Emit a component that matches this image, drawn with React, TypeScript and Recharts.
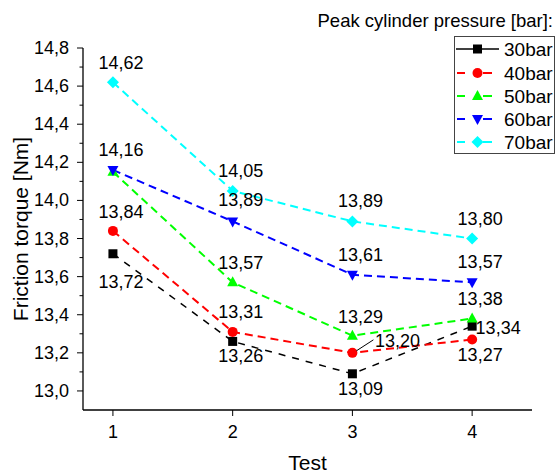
import React from 'react';
import { LineChart, Line, XAxis, YAxis, LabelList, Label } from 'recharts';

const tests = [1, 2, 3, 4];
const p30 = [13.72, 13.26, 13.09, 13.34];
const p40 = [13.84, 13.31, 13.2, 13.27];
const p50 = [14.15, 13.57, 13.29, 13.38];
const p60 = [14.16, 13.89, 13.61, 13.57];
const p70 = [14.62, 14.05, 13.89, 13.8];
const seriesNames = ['30bar', '40bar', '50bar', '60bar', '70bar'];
const xTicks = [1, 2, 3, 4];
const yTicks = [13.0, 13.1, 13.2, 13.3, 13.4, 13.5, 13.6, 13.7, 13.8, 13.9, 14.0, 14.1, 14.2, 14.3, 14.4, 14.5, 14.6, 14.7, 14.8];
const yMajorTicks = [13.0, 13.2, 13.4, 13.6, 13.8, 14.0, 14.2, 14.4, 14.6, 14.8];
const legendTitle = 'Peak cylinder pressure [bar]:';
const xTitle = 'Test';
const yTitle = 'Friction torque [Nm]';

const FONT = "Arial, 'Liberation Sans', sans-serif";

const data = tests.map((t, i) => ({
  test: t,
  s30: p30[i],
  s40: p40[i],
  s50: p50[i],
  s60: p60[i],
  s70: p70[i],
}));

type Shape = 'square' | 'circle' | 'triangle' | 'triangleDown' | 'diamond';

const seriesStyle = [
  { key: 's30', color: '#000000', shape: 'square' as Shape, dash: '7 7', width: 1.5, legendSolid: true },
  { key: 's40', color: '#ff0000', shape: 'circle' as Shape, dash: '8 5', width: 2, legendSolid: false },
  { key: 's50', color: '#00ff00', shape: 'triangle' as Shape, dash: '8 5', width: 2, legendSolid: false },
  { key: 's60', color: '#0000ff', shape: 'triangleDown' as Shape, dash: '8 5', width: 2, legendSolid: false },
  { key: 's70', color: '#00ffff', shape: 'diamond' as Shape, dash: '8 5', width: 2, legendSolid: false },
];

// label placement offsets relative to the point (dx, dy), null = hidden
const labelPlacement: ([number, number, boolean?] | null)[][] = [
  [[8, 28], [8, 15], [8, 15], [26, 2]],
  [[8, -19], [8, -20], [45, -12, true], [8, 15]],
  [null, [8, -19], [8, -19], [8, -20]],
  [[8, -20], [8, -21], [8, -20], [8, -20]],
  [[8, -19], [8, -20], [8, -20], [8, -20]],
];

const Marker = ({ shape, cx, cy, color }: { shape: Shape; cx: number; cy: number; color: string }) => {
  if (shape === 'square') return <rect x={cx - 4.5} y={cy - 4.5} width={9} height={9} fill={color} />;
  if (shape === 'circle') return <circle cx={cx} cy={cy} r={5} fill={color} />;
  if (shape === 'triangle')
    return <polygon points={`${cx},${cy - 6} ${cx + 5.5},${cy + 4} ${cx - 5.5},${cy + 4}`} fill={color} />;
  if (shape === 'triangleDown')
    return <polygon points={`${cx},${cy + 6} ${cx + 5.5},${cy - 4} ${cx - 5.5},${cy - 4}`} fill={color} />;
  return <polygon points={`${cx},${cy - 6} ${cx + 6},${cy} ${cx},${cy + 6} ${cx - 6},${cy}`} fill={color} />;
};

const fmt = (v: number, d: number) => v.toFixed(d).replace('.', ',');

const YTick = (props: any) => {
  const { x, y, payload } = props;
  const v = payload.value as number;
  const major = yMajorTicks.some((t) => Math.abs(t - v) < 1e-6);
  return (
    <g>
      <line x1={x - (major ? 6 : 3.5)} x2={x} y1={y} y2={y} stroke="#000" strokeWidth={1} />
      {major && (
        <text x={x - 14} y={y} textAnchor="end" dominantBaseline="central" fontSize={18} fontFamily={FONT} fill="#000">
          {fmt(v, 1)}
        </text>
      )}
    </g>
  );
};

const XTick = (props: any) => {
  const { x, y, payload } = props;
  return (
    <g>
      <line x1={x} x2={x} y1={y} y2={y + 6} stroke="#000" strokeWidth={1} />
      <text x={x} y={y + 22} textAnchor="middle" dominantBaseline="central" fontSize={18} fontFamily={FONT} fill="#000">
        {payload.value}
      </text>
    </g>
  );
};

const makeLabel = (si: number) => (props: any) => {
  const idx = props.index as number;
  const place = labelPlacement[si][idx];
  if (!place) return null;
  const px = props.x ?? props.viewBox?.x;
  const py = props.y ?? props.viewBox?.y;
  if (px == null || py == null) return null;
  const [dx, dy, leader] = place;
  return (
    <g key={`lab-${si}-${idx}`}>
      {leader && <line x1={px + 4} y1={py - 2} x2={px + dx - 24} y2={py + dy - 1} stroke="#000" strokeWidth={1} />}
      <text
        x={px + dx}
        y={py + dy}
        textAnchor="middle"
        dominantBaseline="central"
        fontSize={18}
        fontFamily={FONT}
        fill="#000"
      >
        {fmt(props.value as number, 2)}
      </text>
    </g>
  );
};

const Legend = () => {
  const rows = [13, 37, 60, 83, 106];
  return (
    <svg width={555} height={475} style={{ position: 'absolute', left: 0, top: 0, pointerEvents: 'none' }}>
      <text x={553} y={20} textAnchor="end" dominantBaseline="central" fontSize={18.5} fontFamily={FONT} fill="#000">
        {legendTitle}
      </text>
      <g transform="translate(454,36)">
        <rect x={0.5} y={0.5} width={100} height={117} fill="#fff" stroke="#444" strokeWidth={1} />
        {seriesStyle.map((s, i) => (
          <g key={s.key}>
            {s.legendSolid ? (
              <line x1={2} x2={45} y1={rows[i]} y2={rows[i]} stroke={s.color} strokeWidth={1.5} />
            ) : (
              <>
                <line x1={3} x2={11} y1={rows[i]} y2={rows[i]} stroke={s.color} strokeWidth={2} />
                <line x1={29} x2={38} y1={rows[i]} y2={rows[i]} stroke={s.color} strokeWidth={2} />
              </>
            )}
            <Marker shape={s.shape} cx={23.5} cy={rows[i]} color={s.color} />
            <text x={50} y={rows[i]} dominantBaseline="central" fontSize={19} fontFamily={FONT} fill="#000">
              {seriesNames[i]}
            </text>
          </g>
        ))}
      </g>
    </svg>
  );
};

export default function App() {
  return (
    <div style={{ position: 'absolute', left: 0, top: 0, width: 555, height: 475, background: '#fff' }}>
      <LineChart width={555} height={475} data={data} margin={{ top: 48, right: 23, left: 0, bottom: 0 }}>
        <XAxis
          dataKey="test"
          type="number"
          domain={[0.75, 4.5]}
          ticks={xTicks}
          interval={0}
          allowDataOverflow
          height={65}
          tickSize={0}
          tickMargin={0}
          tickLine={false}
          tick={<XTick />}
          axisLine={{ stroke: '#000', strokeWidth: 1.3 }}
        >
          <Label
            content={(p: any) => {
              const vb = p.viewBox || { x: 83, width: 449 };
              return (
                <text x={vb.x + vb.width / 2} y={462} textAnchor="middle" dominantBaseline="central" fontSize={21} fontFamily={FONT} fill="#000">
                  {xTitle}
                </text>
              );
            }}
          />
        </XAxis>
        <YAxis
          type="number"
          domain={[12.9, 14.8]}
          ticks={yTicks}
          interval={0}
          allowDataOverflow
          width={83}
          tickSize={0}
          tickMargin={0}
          tickLine={false}
          tick={<YTick />}
          axisLine={{ stroke: '#000', strokeWidth: 1.3 }}
        >
          <Label
            content={() => (
              <text x={20} y={229} transform="rotate(-90,20,229)" textAnchor="middle" dominantBaseline="central" fontSize={21} fontFamily={FONT} fill="#000">
                {yTitle}
              </text>
            )}
          />
        </YAxis>
        {seriesStyle.map((s, si) => (
          <Line
            key={s.key}
            dataKey={s.key}
            name={seriesNames[si]}
            stroke={s.color}
            strokeWidth={s.width}
            strokeDasharray={s.dash}
            isAnimationActive={false}
            dot={(p: any) => <Marker key={`d-${si}-${p.index}`} shape={s.shape} cx={p.cx} cy={p.cy} color={s.color} />}
            activeDot={false}
          >
            <LabelList dataKey={s.key} content={makeLabel(si)} />
          </Line>
        ))}
      </LineChart>
      <Legend />
    </div>
  );
}
